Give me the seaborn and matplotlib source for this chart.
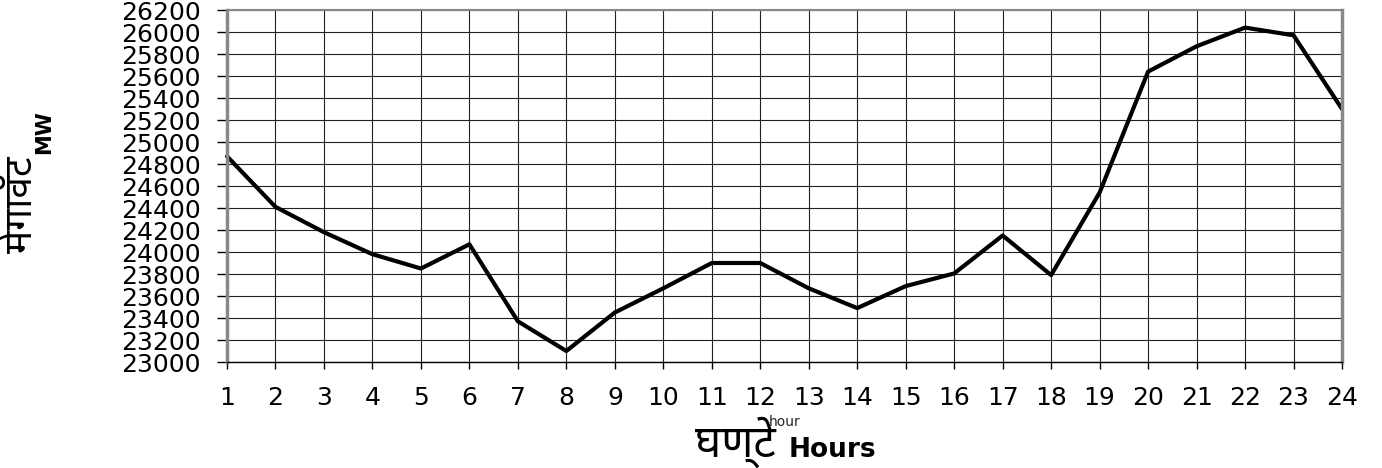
import numpy as np
import pandas as pd
import matplotlib
matplotlib.use("Agg")
import matplotlib.pyplot as plt
from matplotlib import font_manager
import seaborn as sns

# hourly demand
hours = list(range(1, 25))
mw = [24870, 24410, 24180, 23980, 23850, 24070, 23370, 23100, 23450, 23670,
      23900, 23900, 23670, 23490, 23690, 23805, 24150, 23790, 24540, 25640,
      25870, 26040, 25970, 25300]
y_ticks = list(range(23000, 26201, 200))

df = pd.DataFrame({"hour": hours, "mw": mw})

sns.set_style("white")
# DejaVu for latin/digits, a Devanagari font for the hindi words
names = {f.name for f in font_manager.fontManager.ttflist}
deva = [n for n in ["Noto Sans Devanagari", "Anek Devanagari", "Ek Mukta", "Hind"] if n in names][:1]
plt.rcParams["font.family"] = ["DejaVu Sans"] + deva
deva_family = deva + ["DejaVu Sans"]

fig = plt.figure(figsize=(13.82, 4.68), dpi=100)
ax = fig.add_axes([227 / 1382, 1 - 362 / 468, (1342 - 227) / 1382, 352 / 468])

sns.lineplot(data=df, x="hour", y="mw", color="black", lw=3, ax=ax, clip_on=False)

ax.set_xlim(1, 24)
ax.set_ylim(23000, 26200)
ax.set_xticks(hours)
ax.set_yticks(y_ticks)
ax.grid(True, color="#222222", lw=0.8)
ax.tick_params(axis="both", direction="out", width=1, color="black",
               labelcolor="black", labelsize=18, left=True, bottom=True)
ax.tick_params(axis="x", length=5, pad=12)
ax.tick_params(axis="y", length=7, pad=12)
for side in ["top", "right", "left"]:
    ax.spines[side].set_color("#888888")
ax.spines["left"].set_linewidth(2.5)
ax.spines["right"].set_linewidth(2.5)
ax.spines["top"].set_linewidth(1.5)
ax.spines["bottom"].set_color("black")
ax.spines["bottom"].set_linewidth(1)

# y label: Devanagari word with a small bold MW after it
ax.set_ylabel("मेगावॅट", fontsize=28, fontweight="bold", color="black", va="center",
              family=deva_family)
ax.yaxis.set_label_coords((22 - 227) / 1115, (362 - 205) / 352)
fig.text(44 / 1382, 1 - 132 / 468, "MW", rotation=90, fontsize=15, fontweight="bold",
         ha="center", va="center", color="black")

# x label
fig.text(776 / 1382, 1 - 457 / 468, "घण्टे", fontsize=32, fontweight="bold",
         ha="right", va="baseline", color="black", family=deva_family)
fig.text(789 / 1382, 1 - 457 / 468, "Hours", fontsize=19, fontweight="bold",
         ha="left", va="baseline", color="black")

fig.savefig("out.png", dpi=100)
